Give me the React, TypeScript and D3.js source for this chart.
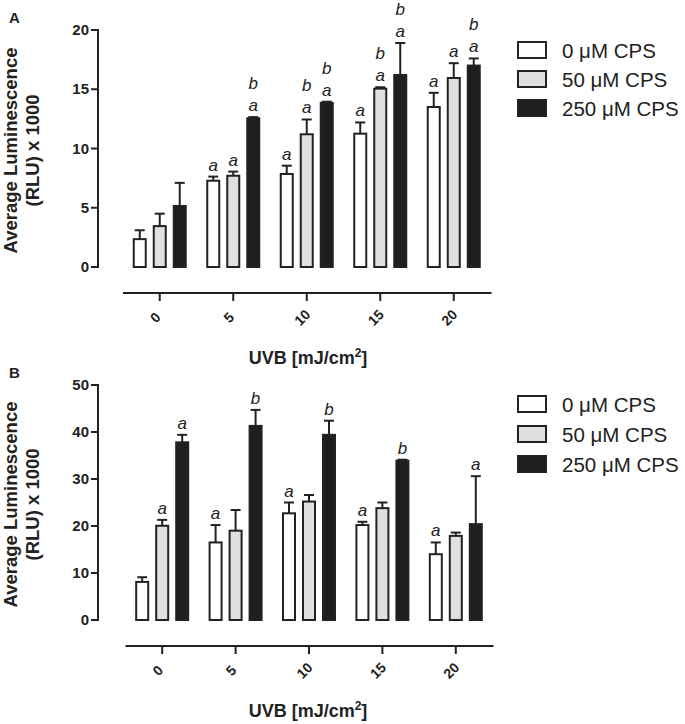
import React from "react";
import * as d3 from "d3";

// UVB doses (x categories) and CPS concentrations (series)
const doses = ["0", "5", "10", "15", "20"];
const seriesNames = ["0 μM CPS", "50 μM CPS", "250 μM CPS"];
const fills = ["#ffffff", "#e0e0e0", "#1e1e1e"];

// Panel A: means and upper error (x1000 RLU)
const meanA0 = [2.35, 7.28, 7.85, 11.25, 13.5];
const errA0 = [0.75, 0.35, 0.7, 0.95, 1.2];
const meanA50 = [3.45, 7.7, 11.2, 15.05, 15.95];
const errA50 = [1.05, 0.35, 1.25, 0.12, 1.25];
const meanA250 = [5.15, 12.55, 13.85, 16.2, 17.0];
const errA250 = [1.95, 0.1, 0.1, 2.7, 0.6];
// letters, bottom to top
const letA0 = ["", "a", "a", "a", "a"];
const letA50 = ["", "a", "ab", "ab", "a"];
const letA250 = ["", "ab", "ab", "ab", "ab"];
const ticksA = [0, 5, 10, 15, 20];

// Panel B
const meanB0 = [8.1, 16.5, 22.7, 20.2, 14.0];
const errB0 = [1.0, 3.7, 2.3, 0.7, 2.5];
const meanB50 = [20.05, 19.0, 25.2, 23.8, 17.9];
const errB50 = [1.25, 4.4, 1.4, 1.2, 0.7];
const meanB250 = [37.8, 41.3, 39.4, 33.9, 20.4];
const errB250 = [1.6, 3.4, 3.0, 0.2, 10.2];
const letB0 = ["", "a", "a", "a", "a"];
const letB50 = ["a", "", "", "", ""];
const letB250 = ["a", "b", "b", "b", "a"];
const ticksB = [0, 10, 20, 30, 40, 50];

const FONT = "'Liberation Sans', Arial, sans-serif";
const INK = "#222";

type PanelProps = {
  label: string;
  means: number[][];
  errs: number[][];
  letters: string[][];
  ticks: number[];
  yTop: number;
  yBottom: number;
  xLeft: number;
  xRight: number;
  xAxisY: number;
  labelY: number;
  legendTop: number;
  legendStep: number;
};

function Panel(p: PanelProps) {
  const yMax = p.ticks[p.ticks.length - 1];
  const y = d3.scaleLinear().domain([0, yMax]).range([p.yBottom, p.yTop]);
  const x = d3.scaleBand<string>().domain(doses).range([p.xLeft, p.xRight]);
  const inner = d3
    .scaleBand<number>()
    .domain([0, 1, 2])
    .range([-30, 30])
    .paddingInner(0.3)
    .paddingOuter(0.15);
  const axisX = 98;
  const yMid = (p.yTop + p.yBottom) / 2 + 2;

  return (
    <g>
      <text x={9} y={p.labelY} fontFamily={FONT} fontWeight="bold" fontSize={15} fill={INK}>
        {p.label}
      </text>
      {/* y axis title */}
      <text
        transform={`translate(17,${yMid}) rotate(-90)`}
        textAnchor="middle"
        fontFamily={FONT}
        fontWeight="bold"
        fontSize={18.5}
        fill={INK}
      >
        Average Luminescence
      </text>
      <text
        transform={`translate(39,${yMid}) rotate(-90)`}
        textAnchor="middle"
        fontFamily={FONT}
        fontWeight="bold"
        fontSize={18.5}
        fill={INK}
      >
        (RLU) x 1000
      </text>

      {/* y axis */}
      <line x1={axisX} x2={axisX} y1={y(yMax) - 1} y2={y(0) + 1} stroke={INK} strokeWidth={2} />
      {p.ticks.map((t) => (
        <g key={t}>
          <line x1={axisX - 7} x2={axisX} y1={y(t)} y2={y(t)} stroke={INK} strokeWidth={2} />
          <text
            x={axisX - 9}
            y={y(t) + 5}
            textAnchor="end"
            fontFamily={FONT}
            fontWeight="bold"
            fontSize={15}
            fill={INK}
          >
            {t}
          </text>
        </g>
      ))}

      {/* x axis */}
      <line x1={p.xLeft} x2={p.xRight + 1} y1={p.xAxisY} y2={p.xAxisY} stroke={INK} strokeWidth={2} />
      {doses.map((d) => {
        const cx = (x(d) as number) + x.bandwidth() / 2;
        return (
          <g key={d}>
            <line x1={cx} x2={cx} y1={p.xAxisY} y2={p.xAxisY + 8} stroke={INK} strokeWidth={2} />
            <text
              transform={`translate(${cx - 1},${p.xAxisY + 28}) rotate(-45)`}
              textAnchor="middle"
              fontFamily={FONT}
              fontWeight="bold"
              fontSize={14}
              fill={INK}
            >
              {d}
            </text>
          </g>
        );
      })}
      <text
        x={308}
        y={p.xAxisY + 71}
        textAnchor="middle"
        fontFamily={FONT}
        fontWeight="bold"
        fontSize={18}
        fill={INK}
      >
        UVB [mJ/cm
        <tspan dy={-7} fontSize={12}>
          2
        </tspan>
        <tspan dy={7}>]</tspan>
      </text>

      {/* bars */}
      {p.means.map((series, s) =>
        series.map((v, i) => {
          const cx = (x(doses[i]) as number) + x.bandwidth() / 2;
          const bx = cx + (inner(s) as number);
          const bw = inner.bandwidth();
          const top = y(v);
          const errTop = y(v + p.errs[s][i]);
          const mid = bx + bw / 2;
          const lets = p.letters[s][i].split("");
          return (
            <g key={`${s}-${i}`}>
              <line x1={mid} x2={mid} y1={top} y2={errTop} stroke={INK} strokeWidth={2} />
              <line x1={mid - 5} x2={mid + 5} y1={errTop} y2={errTop} stroke={INK} strokeWidth={2} />
              <rect
                x={bx + 1}
                y={top}
                width={bw - 2}
                height={y(0) - top}
                fill={fills[s]}
                stroke={INK}
                strokeWidth={2}
              />
              {lets.map((l, k) => (
                <text
                  key={k}
                  x={mid}
                  y={errTop - 6 - k * 22}
                  textAnchor="middle"
                  fontFamily={FONT}
                  fontStyle="italic"
                  fontSize={17}
                  fill={INK}
                >
                  {l}
                </text>
              ))}
            </g>
          );
        })
      )}

      {/* legend */}
      {seriesNames.map((n, s) => {
        const ty = p.legendTop + s * p.legendStep;
        return (
          <g key={n}>
            <rect x={518} y={ty} width={28} height={16} fill={fills[s]} stroke={INK} strokeWidth={2} />
            <text x={562} y={ty + 16} fontFamily={FONT} fontSize={20.5} fill={INK}>
              {n}
            </text>
          </g>
        );
      })}
    </g>
  );
}

export default function App() {
  return (
    <svg
      width={685}
      height={724}
      style={{ position: "absolute", left: 0, top: 0, background: "#fff" }}
    >
      <Panel
        label="A"
        means={[meanA0, meanA50, meanA250]}
        errs={[errA0, errA50, errA250]}
        letters={[letA0, letA50, letA250]}
        ticks={ticksA}
        yTop={30}
        yBottom={267}
        xLeft={123}
        xRight={490.5}
        xAxisY={293}
        labelY={23}
        legendTop={42}
        legendStep={29}
      />
      <Panel
        label="B"
        means={[meanB0, meanB50, meanB250]}
        errs={[errB0, errB50, errB250]}
        letters={[letB0, letB50, letB250]}
        ticks={ticksB}
        yTop={385}
        yBottom={620}
        xLeft={125.5}
        xRight={492.5}
        xAxisY={646}
        labelY={378}
        legendTop={396}
        legendStep={30}
      />
    </svg>
  );
}
